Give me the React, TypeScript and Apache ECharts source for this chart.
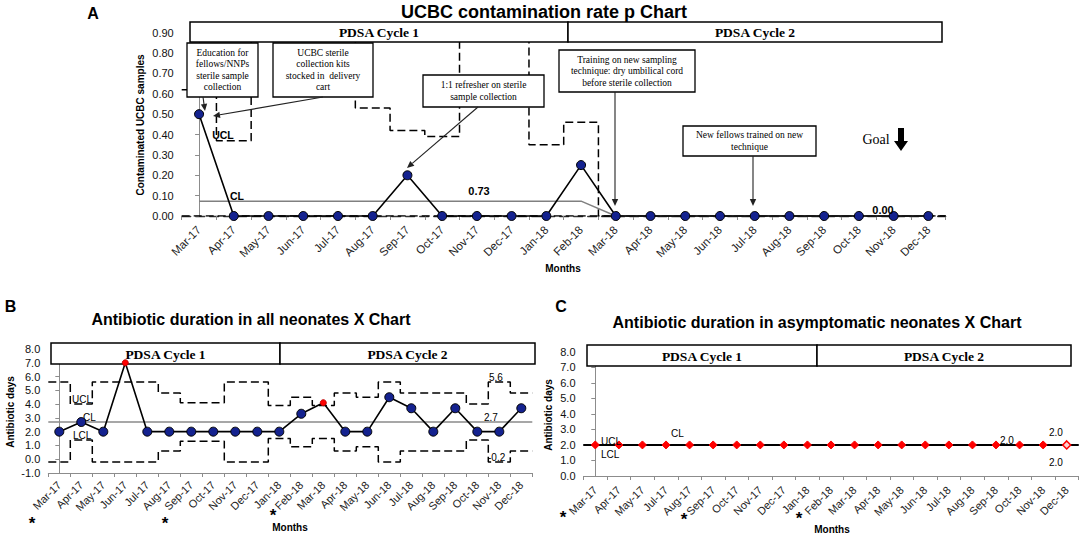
import React, { useEffect, useRef } from "react";
import * as echarts from "echarts";

const monthsAll = ["Mar-17","Apr-17","May-17","Jun-17","Jul-17","Aug-17","Sep-17","Oct-17","Nov-17","Dec-17","Jan-18","Feb-18","Mar-18","Apr-18","May-18","Jun-18","Jul-18","Aug-18","Sep-18","Oct-18","Nov-18","Dec-18"];
const monthsC = ["Mar-17","Apr-17","May-17","Jul-17","Aug-17","Sep-17","Oct-17","Nov-17","Dec-17","Jan-18","Feb-18","Mar-18","Apr-18","May-18","Jun-18","Jul-18","Aug-18","Sep-18","Oct-18","Nov-18","Dec-18"];

// Panel A: UCBC contamination p chart
const pA = [0.5,0,0,0,0,0,0.2,0,0,0,0,0.25,0,0,0,0,0,0,0,0,0,0];
const clA = [0.073,0.073,0.073,0.073,0.073,0.073,0.073,0.073,0.073,0.073,0.073,0.073,0,0,0,0,0,0,0,0,0,0];
const uclA = [0.62,0.37,0.86,0.86,0.86,0.53,0.42,0.39,0.86,0.86,0.35,0.46,0,0,0,0,0,0,0,0,0,0];
const lclA = [0,0,0,0,0,0,0,0,0,0,0,0,0,0,0,0,0,0,0,0,0,0];

// Panel B: antibiotic duration all neonates
const xB = [2.0,2.7,2.0,7.0,2.0,2.0,2.0,2.0,2.0,2.0,2.0,3.3,4.1,2.0,2.0,4.5,3.7,2.0,3.7,2.0,2.0,3.7];
const redB = [3, 12];
const clB = [2.7,2.7,2.7,2.7,2.7,2.7,2.7,2.7,2.7,2.7,2.7,2.7,2.7,2.7,2.7,2.7,2.7,2.7,2.7,2.7,2.7,2.7];
const uclB = [5.6,4.0,5.6,5.6,5.6,4.8,4.1,4.1,5.6,5.6,3.9,4.5,3.9,4.8,4.5,5.6,4.8,4.8,4.8,4.0,5.6,4.8];
const lclB = [-0.2,1.4,-0.2,-0.2,-0.2,0.6,1.3,1.3,-0.2,-0.2,1.5,0.9,1.5,0.6,0.9,-0.2,0.6,0.6,0.6,1.4,-0.2,0.6];

// Panel C: antibiotic duration asymptomatic neonates
const xC = [2.0,2.0,2.0,2.0,2.0,2.0,2.0,2.0,2.0,2.0,2.0,2.0,2.0,2.0,2.0,2.0,2.0,2.0,2.0,2.0,2.0];
const clC = [2.0,2.0,2.0,2.0,2.0,2.0,2.0,2.0,2.0,2.0,2.0,2.0,2.0,2.0,2.0,2.0,2.0,2.0,2.0,2.0,2.0];
const uclC = clC;
const lclC = clC;

const SANS = "'Liberation Sans', Arial, sans-serif";
const SERIF = "'Liberation Serif', 'Times New Roman', serif";

function steps(vals: number[]) {
  const out: number[][] = [];
  vals.forEach((v, i) => {
    out.push([i - 0.5, v]);
    out.push([i + 0.5, v]);
  });
  return out;
}

function txt(x: number, y: number, text: string, o: any = {}) {
  return {
    type: "text",
    x, y,
    rotation: o.rotation || 0,
    z: o.z || 110,
    style: {
      text,
      x: 0, y: 0,
      fill: o.fill || "#000",
      font: o.font || `11px ${SANS}`,
      align: o.align || "center",
      verticalAlign: "middle",
      textAlign: o.align || "center",
      textVerticalAlign: "middle",
      lineHeight: o.lineHeight,
    },
  };
}

function box(x1: number, y1: number, x2: number, y2: number, lw = 1.3) {
  return {
    type: "rect",
    z: 100,
    shape: { x: x1, y: y1, width: x2 - x1, height: y2 - y1 },
    style: { fill: "#fff", stroke: "#000", lineWidth: lw },
  };
}

function noteBox(x1: number, y1: number, x2: number, y2: number, text: string) {
  return [
    box(x1, y1, x2, y2, 1.3),
    txt((x1 + x2) / 2, (y1 + y2) / 2, text, { font: `9.5px ${SERIF}`, lineHeight: 11.5 }),
  ];
}

function arrow(x1: number, y1: number, x2: number, y2: number, color = "#222") {
  const dx = x2 - x1, dy = y2 - y1;
  const len = Math.sqrt(dx * dx + dy * dy);
  const ux = dx / len, uy = dy / len;
  const h = 7, w = 3.2;
  const bx = x2 - ux * h, by = y2 - uy * h;
  return [
    { type: "line", z: 105, shape: { x1, y1, x2: bx, y2: by }, style: { stroke: color, lineWidth: 1.1 } },
    {
      type: "polygon", z: 105,
      shape: { points: [[x2, y2], [bx - uy * w, by + ux * w], [bx + uy * w, by - ux * w]] },
      style: { fill: color },
    },
  ];
}

function cycleBoxes(x1: number, xm: number, x2: number, y1: number, y2: number) {
  return [
    box(x1, y1, xm, y2, 1.5),
    box(xm, y1, x2, y2, 1.5),
    txt((x1 + xm) / 2, (y1 + y2) / 2 + 0.5, "PDSA Cycle 1", { font: `bold 13.5px ${SERIF}` }),
    txt((xm + x2) / 2, (y1 + y2) / 2 + 0.5, "PDSA Cycle 2", { font: `bold 13.5px ${SERIF}` }),
  ];
}

export default function App() {
  const ref = useRef<HTMLDivElement>(null);
  useEffect(() => {
    if (!ref.current) return;
    const chart = echarts.init(ref.current, undefined, { renderer: "svg" });

    const catAxis = (gridIndex: number, data: string[], dashed: boolean, fs: number, margin: number) => ({
      type: "category",
      gridIndex,
      data,
      boundaryGap: true,
      axisLine: {
        show: true,
        onZero: false,
        lineStyle: dashed ? { color: "#333", width: 1.3, type: [9, 5] } : { color: "#8c8c8c", width: 1 },
      },
      axisTick: { show: true, length: 4, lineStyle: { color: "#8c8c8c" } },
      axisLabel: {
        interval: 0,
        rotate: 45,
        fontSize: fs,
        fontFamily: SANS,
        color: "#222",
        margin,
      },
      splitLine: { show: false },
    });
    const hidAxis = (gridIndex: number, n: number) => ({
      type: "value",
      gridIndex,
      min: -0.5,
      max: n - 0.5,
      show: false,
    });
    const valAxis = (gridIndex: number, min: number, max: number, interval: number, dec: number) => ({
      type: "value",
      gridIndex,
      min,
      max,
      interval,
      axisLine: { show: true, lineStyle: { color: "#8c8c8c" } },
      axisTick: { show: true, length: 4, lineStyle: { color: "#8c8c8c" } },
      axisLabel: {
        formatter: (v: number) => v.toFixed(dec),
        fontSize: 11,
        fontFamily: SANS,
        color: "#111",
        margin: 8,
      },
      splitLine: { show: false },
    });

    const stepSeries = (xi: number, yi: number, vals: number[], style: any) => ({
      type: "line",
      xAxisIndex: xi,
      yAxisIndex: yi,
      data: steps(vals),
      symbol: "none",
      lineStyle: style,
      z: 3,
    });

    const dashStyle = { color: "#000", width: 1.5, type: [8, 4] };

    const graphics: any[] = [
      // titles & panel letters
      txt(93, 13, "A", { font: `bold 16px ${SANS}` }),
      txt(544, 12, "UCBC contamination rate p Chart", { font: `bold 18px ${SANS}` }),
      txt(10.5, 306, "B", { font: `bold 16px ${SANS}` }),
      txt(251, 319, "Antibiotic duration in all neonates X Chart", { font: `bold 16px ${SANS}` }),
      txt(561, 306, "C", { font: `bold 16px ${SANS}` }),
      txt(817, 322, "Antibiotic duration in asymptomatic neonates X Chart", { font: `bold 16px ${SANS}` }),
      // axis titles
      txt(140, 125, "Contaminated UCBC samples", { font: `bold 10px ${SANS}`, rotation: Math.PI / 2 }),
      txt(563, 268, "Months", { font: `bold 10px ${SANS}` }),
      txt(10, 412, "Antibiotic days", { font: `bold 10px ${SANS}`, rotation: Math.PI / 2 }),
      txt(290, 527, "Months", { font: `bold 10px ${SANS}` }),
      txt(548, 415, "Antibiotic days", { font: `bold 10px ${SANS}`, rotation: Math.PI / 2 }),
      txt(832, 529, "Months", { font: `bold 10px ${SANS}` }),
      // cycle boxes
      ...cycleBoxes(190, 568, 942, 22, 42),
      ...cycleBoxes(51, 280, 535, 343, 364),
      ...cycleBoxes(587, 817, 1071, 345, 366),
      // panel A annotations
      ...noteBox(187, 43, 258, 97, "Education for\nfellows/NNPs\nsterile sample\ncollection"),
      ...noteBox(273, 43, 373, 97, "UCBC sterile\ncollection kits\nstocked in  delivery\ncart"),
      ...noteBox(423, 75, 544, 107, "1:1 refresher on sterile\nsample collection"),
      ...noteBox(559, 50, 695, 92, "Training on new sampling\ntechnique: dry umbilical cord\nbefore sterile collection"),
      ...noteBox(683, 126, 816, 156, "New fellows trained on new\ntechnique"),
      ...arrow(203, 97, 205, 111),
      ...arrow(323, 97, 213, 116),
      ...arrow(478, 107, 407, 168),
      ...arrow(615, 92, 615, 206),
      ...arrow(753, 156, 753, 206),
      txt(876, 139, "Goal", { font: `14px ${SERIF}` }),
      {
        type: "polygon", z: 105,
        shape: { points: [[898, 128], [904, 128], [904, 141], [908, 141], [901, 151], [894, 141], [898, 141]] },
        style: { fill: "#000" },
      },
      txt(223, 135, "UCL", { font: `bold 10.5px ${SANS}` }),
      txt(237, 196, "CL", { font: `bold 10.5px ${SANS}` }),
      txt(479, 191, "0.73", { font: `bold 11px ${SANS}` }),
      txt(883, 210, "0.00", { font: `bold 11px ${SANS}` }),
      // panel B labels
      txt(72, 399, "UCL", { align: "left", font: `10px ${SANS}` }),
      txt(83, 417, "CL", { align: "left", font: `10px ${SANS}` }),
      txt(73, 435, "LCL", { align: "left", font: `10px ${SANS}` }),
      txt(489, 377, "5.6", { align: "left", font: `10px ${SANS}` }),
      txt(484, 417, "2.7", { align: "left", font: `10px ${SANS}` }),
      txt(488, 457, "-0.2", { align: "left", font: `10px ${SANS}` }),
      // panel C labels
      txt(601, 441, "UCL", { align: "left", font: `10px ${SANS}` }),
      txt(601, 454, "LCL", { align: "left", font: `10px ${SANS}` }),
      txt(671, 433, "CL", { align: "left", font: `10px ${SANS}` }),
      txt(1000, 440, "2.0", { align: "left", font: `10px ${SANS}` }),
      txt(1049, 432, "2.0", { align: "left", font: `10px ${SANS}` }),
      txt(1049, 462, "2.0", { align: "left", font: `10px ${SANS}` }),
      // asterisks
      txt(32, 523, "*", { font: `bold 17px ${SANS}` }),
      txt(165, 523, "*", { font: `bold 17px ${SANS}` }),
      txt(273, 515, "*", { font: `bold 17px ${SANS}` }),
      txt(563, 517, "*", { font: `bold 17px ${SANS}` }),
      txt(684, 519, "*", { font: `bold 17px ${SANS}` }),
      txt(799, 518, "*", { font: `bold 17px ${SANS}` }),
    ];

    const option: any = {
      animation: false,
      backgroundColor: "#fff",
      grid: [
        { left: 181.7, top: 32.7, width: 764, height: 183.3 },
        { left: 48.3, top: 349, width: 484, height: 124 },
        { left: 583.5, top: 351.7, width: 495, height: 124.3 },
      ],
      xAxis: [
        catAxis(0, monthsAll, true, 11.5, 12),
        hidAxis(0, monthsAll.length),
        catAxis(1, monthsAll, false, 11, 10),
        hidAxis(1, monthsAll.length),
        catAxis(2, monthsC, false, 11, 12),
        hidAxis(2, monthsC.length),
      ],
      yAxis: [
        valAxis(0, 0, 0.9, 0.1, 2),
        valAxis(1, -1, 8, 1, 1),
        valAxis(2, 0, 8, 1, 1),
      ],
      series: [
        // A
        stepSeries(1, 0, uclA, dashStyle),
        stepSeries(1, 0, lclA, dashStyle),
        {
          type: "line", xAxisIndex: 0, yAxisIndex: 0, data: clA, symbol: "none", z: 4,
          lineStyle: { color: "#808080", width: 1.5 },
        },
        {
          type: "line", xAxisIndex: 0, yAxisIndex: 0, data: pA, symbol: "circle", symbolSize: 9, z: 5,
          clip: false,
          lineStyle: { color: "#000", width: 1.6 },
          itemStyle: { color: "#14228f", borderColor: "#000", borderWidth: 1 },
        },
        // B
        stepSeries(3, 1, uclB, dashStyle),
        stepSeries(3, 1, lclB, dashStyle),
        stepSeries(3, 1, clB, { color: "#8a8a8a", width: 1.3 }),
        {
          type: "line", xAxisIndex: 2, yAxisIndex: 1, symbol: "circle", symbolSize: 9, z: 200,
          clip: false,
          data: xB.map((v, i) =>
            redB.includes(i)
              ? { value: v, symbolSize: 6, itemStyle: { color: "#ff0000", borderColor: "#c00000", borderWidth: 1 } }
              : v
          ),
          lineStyle: { color: "#000", width: 1.6 },
          itemStyle: { color: "#14228f", borderColor: "#000", borderWidth: 1 },
        },
        // C
        stepSeries(5, 2, uclC, { color: "#000", width: 1.6 }),
        stepSeries(5, 2, lclC, { color: "#000", width: 1.6 }),
        stepSeries(5, 2, clC, { color: "#000", width: 1.6 }),
        {
          type: "line", xAxisIndex: 4, yAxisIndex: 2, symbol: "diamond", symbolSize: 8, z: 5,
          clip: false,
          data: xC.map((v, i) =>
            i === xC.length - 1 ? { value: v, itemStyle: { color: "#ffd0d0", borderColor: "#ff0000", borderWidth: 1.5 } } : v
          ),
          lineStyle: { color: "#000", width: 1.6 },
          itemStyle: { color: "#ff0000", borderColor: "#ff0000", borderWidth: 1 },
        },
      ],
      graphic: { elements: graphics },
    };

    chart.setOption(option);
    return () => chart.dispose();
  }, []);

  return (
    <div
      ref={ref}
      style={{ position: "fixed", left: 0, top: 0, width: 1084, height: 538, background: "#fff" }}
    />
  );
}
